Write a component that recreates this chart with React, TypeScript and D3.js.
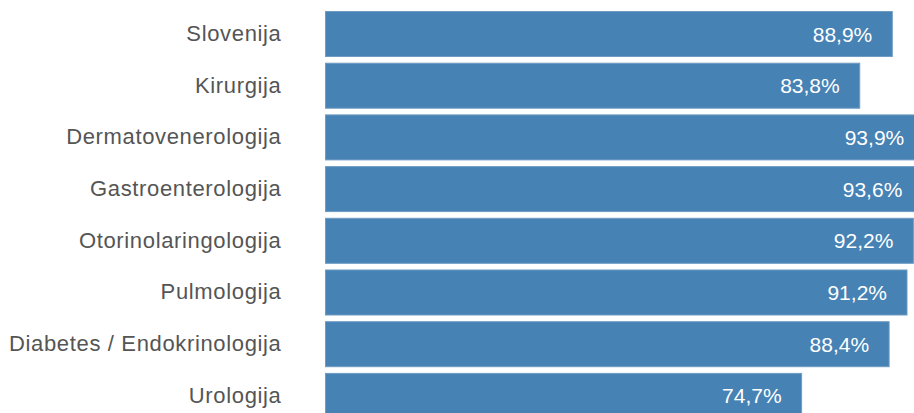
import React from "react";
import * as d3 from "d3";

const categories = [
  "Slovenija",
  "Kirurgija",
  "Dermatovenerologija",
  "Gastroenterologija",
  "Otorinolaringologija",
  "Pulmologija",
  "Diabetes / Endokrinologija",
  "Urologija",
];
const values = [88.9, 83.8, 93.9, 93.6, 92.2, 91.2, 88.4, 74.7];

const W = 914;
const H = 413;

export default function App() {
  const x = d3.scaleLinear().domain([0, 100]).range([325, 963.7]);
  const y = d3
    .scaleBand<string>()
    .domain(categories)
    .range([11, 418.9])
    .paddingInner(0.11)
    .paddingOuter(0);
  const fmt = (v: number) => d3.format(".1f")(v).replace(".", ",") + "%";
  const font = "'Liberation Sans', Arial, Helvetica, sans-serif";
  return (
    <svg
      width={W}
      height={H}
      style={{ position: "absolute", left: 0, top: 0, overflow: "hidden", background: "#fff" }}
    >
      {categories.map((c, i) => {
        const y0 = y(c)!;
        const bw = y.bandwidth();
        const cy = y0 + bw / 2;
        const xe = x(values[i]);
        return (
          <g key={c}>
            <rect
              x={x(0) + 0.5}
              y={y0 + 0.5}
              width={xe - x(0) - 1}
              height={bw - 1}
              fill="#4682b4"
              stroke="#6f9cc4"
              strokeWidth={1}
            />
            <text
              x={281.5}
              y={cy + 7}
              textAnchor="end"
              fontFamily={font}
              fontSize={22}
              letterSpacing={0.65}
              fill="#555555"
            >
              {c}
            </text>
            <text
              x={xe - 20.5}
              y={cy + 7.5}
              textAnchor="end"
              fontFamily={font}
              fontSize={21}
              fill="#ffffff"
            >
              {fmt(values[i])}
            </text>
          </g>
        );
      })}
    </svg>
  );
}
